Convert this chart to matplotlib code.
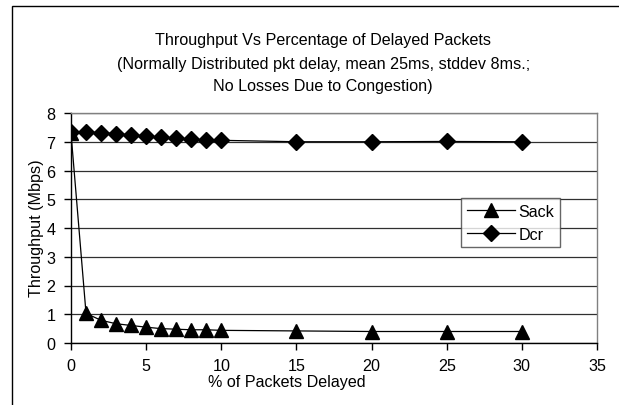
import matplotlib
matplotlib.use("Agg")
import matplotlib.pyplot as plt
from matplotlib.patches import Rectangle

plt.rcParams['font.family'] = ['Liberation Sans', 'DejaVu Sans']

x_vals = [0, 1, 2, 3, 4, 5, 6, 7, 8, 9, 10, 15, 20, 25, 30]
sack = [7.3, 1.03, 0.79, 0.67, 0.61, 0.55, 0.5, 0.48, 0.46, 0.46, 0.44, 0.42, 0.4, 0.4, 0.4]
dcr = [7.34, 7.34, 7.32, 7.28, 7.24, 7.2, 7.15, 7.13, 7.08, 7.06, 7.05, 7.0, 7.0, 7.01, 7.0]
x_ticks = [0, 5, 10, 15, 20, 25, 30, 35]
y_ticks = [0, 1, 2, 3, 4, 5, 6, 7, 8]
title_lines = ["Throughput Vs Percentage of Delayed Packets",
               "(Normally Distributed pkt delay, mean 25ms, stddev 8ms.;",
               "No Losses Due to Congestion)"]

W, H = 619, 406
FS = 11.6
fig = plt.figure(figsize=(W / 100, H / 100), dpi=100)

def fx(px):
    return px / W

def fy(py):
    return 1 - py / H

# outer chart frame
fig.patches.append(Rectangle((fx(12), fy(420)), fx(640) - fx(12), fy(7) - fy(420),
                             transform=fig.transFigure, fill=False,
                             edgecolor='black', linewidth=1.0))

ax = fig.add_axes([fx(71), fy(344), fx(597) - fx(71), fy(114) - fy(344)])
ax.set_xlim(0, 35)
ax.set_ylim(0, 8)
ax.set_xticks(x_ticks)
ax.set_yticks(y_ticks)
ax.yaxis.grid(True, color='#303030', linewidth=0.9)
ax.set_axisbelow(True)
for s in ['top', 'right']:
    ax.spines[s].set_color('#808080')
    ax.spines[s].set_linewidth(1.0)
for s in ['left', 'bottom']:
    ax.spines[s].set_color('black')
    ax.spines[s].set_linewidth(1.0)
ax.tick_params(direction='out', length=5, width=1, labelsize=FS, pad=6)

ax.plot(x_vals, sack, color='black', linewidth=0.9, marker='^', markersize=10,
        label='Sack', zorder=3)
ax.plot(x_vals, dcr, color='black', linewidth=0.9, marker='D', markersize=8,
        label='Dcr', zorder=4)

leg = ax.legend(loc='upper left', bbox_to_anchor=((461 - 71) / (597 - 71), (344 - 199) / (344 - 114)),
                frameon=True, fancybox=False, fontsize=FS, handlelength=3.0,
                borderpad=0.35, labelspacing=0.5, handletextpad=0.2, borderaxespad=0)
leg.get_frame().set_edgecolor('#404040')
leg.get_frame().set_linewidth(1.0)

fig.text(fx(323), fy(41), title_lines[0], ha='center', va='center', fontsize=FS)
fig.text(fx(324), fy(64), title_lines[1], ha='center', va='center', fontsize=FS)
fig.text(fx(323), fy(87), title_lines[2], ha='center', va='center', fontsize=FS)
fig.text(fx(287), fy(383), "% of Packets Delayed", ha='center', va='center', fontsize=FS)
fig.text(fx(37), fy(228), "Throughput (Mbps)", ha='center', va='center', rotation=90, fontsize=FS)

fig.savefig("out.png", dpi=100)
